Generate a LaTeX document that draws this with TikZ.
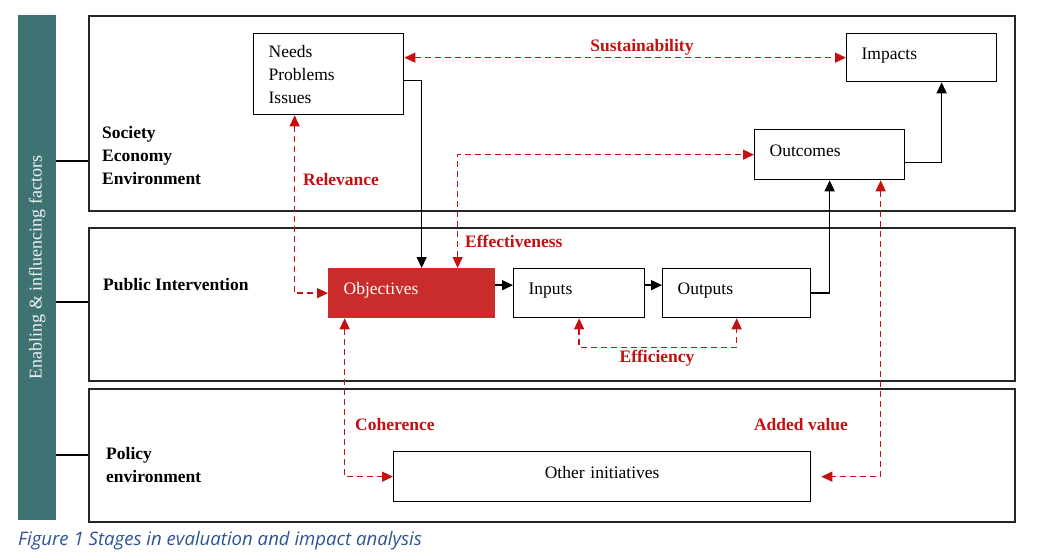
\documentclass[tikz,border=0pt]{standalone}
\usepackage{fontspec}
\setmainfont{Liberation Serif}
\newfontfamily\captionfont{Open Sans}
\usetikzlibrary{positioning, arrows.meta}

\definecolor{barteal}{RGB}{63,115,115}
\definecolor{critred}{RGB}{196,16,16}
\definecolor{objred}{RGB}{202,44,44}
\definecolor{captionblue}{RGB}{46,84,150}

\begin{document}
\begin{tikzpicture}[x=1pt, y=-1pt,
        zone/.style={draw, line width=1.5pt, draw=black!85, anchor=north west, inner sep=0pt},
        stage/.style 2 args={draw, line width=1.3pt, anchor=north west, align=left,
            inner xsep=15pt, inner ysep=0pt, text width=#1, minimum height=#2,
            text height=12pt, text depth=9pt,
            font=\fontsize{17.5}{23}\selectfont},
        zonelabel/.style={anchor=west, align=left, inner sep=4pt,
            font=\fontsize{17.5}{23}\selectfont\bfseries},
        critlabel/.style={text=critred, inner sep=2pt,
            font=\fontsize{17.5}{21}\selectfont\bfseries},
        link/.style={line width=1.4pt},
        flow/.style={line width=1.4pt, -{Triangle[length=11pt, width=10pt]}},
        crit/.style={critred, line width=1.4pt, dash pattern=on 6pt off 4pt,
            {Triangle[length=11pt, width=10pt]}-{Triangle[length=11pt, width=10pt]}}]

        \useasboundingbox (0,0) rectangle (1052,555);

        \node[fill=barteal, anchor=north west, minimum width=38, minimum height=505, inner sep=0pt] (bar) at (18,15) {};
        \node[rotate=90, text=white!92!barteal, font=\fontsize{18}{20}\selectfont] (barlabel) at (bar.center) {Enabling \& influencing factors};

        \node[zone, minimum width=926, minimum height=195] (society) at (88,15) {};
        \node[zone, minimum width=926, minimum height=153] (public) at (88,227) {};
        \node[zone, minimum width=926, minimum height=133] (policy) at (88,388) {};

        \draw[link] (bar.east |- 0,161) -- (society.west |- 0,161);
        \draw[link] (bar.east |- 0,302) -- (public.west |- 0,302);
        \draw[link] (bar.east |- 0,455) -- (policy.west |- 0,455);

        \node[zonelabel] (societylabel) at (98,156) {Society\\Economy\\Environment};
        \node[zonelabel] (publiclabel) at (99,285) {Public Intervention};
        \node[zonelabel] (policylabel) at (102,465) {Policy\\environment};

        \node[stage={120}{81}, text height=, text depth=] (needs) at (253,33) {Needs\\Problems\\Issues};
        \node[stage={120}{48}] (impacts) at (846,33) {Impacts};
        \node[stage={120}{50}] (outcomes) at (754,129) {Outcomes};
        \node[stage={136}{49}, fill=objred, draw=objred, text=white] (objectives) at (328,268) {Objectives};
        \node[stage={101}{49}] (inputs) at (513,268) {Inputs};
        \node[stage={118}{49}] (outputs) at (662,268) {Outputs};
        \node[stage={387}{50}, align=center] (other) at (393,451) {Other initiatives};

        \draw[flow] ([yshift=-6.5pt]needs.east) -| ([xshift=10pt]objectives.north);
        \draw[flow] ([yshift=8pt]objectives.east) -- ([yshift=8pt]inputs.west);
        \draw[flow] ([yshift=8pt]inputs.east) -- ([yshift=8pt]outputs.west);
        \draw[flow] (outputs.east) -| (outcomes.south);
        \draw[flow] ([yshift=-8pt]outcomes.east) -| ([xshift=20pt]impacts.south);

        \draw[crit] (needs.east |- impacts.west) -- (impacts.west);
        \draw[crit] ([xshift=-34pt]needs.south) |- (objectives.west);
        \draw[crit] ([xshift=46pt]objectives.north) |- (outcomes.west);
        \draw[crit] (inputs.south) -- ++(0,29) -| (outputs.south);
        \draw[crit] ([xshift=-67pt]objectives.south) |- (other.west);
        \draw[crit] ([xshift=51pt]outcomes.south) |- ([xshift=10pt]other.east);

        \node[critlabel, anchor=base] (sustainability) at (642,51) {Sustainability};
        \node[critlabel, anchor=west] (relevance) at (301,180) {Relevance};
        \node[critlabel, anchor=west] (effectiveness) at (463,241) {Effectiveness};
        \node[critlabel] (efficiency) at (657,358) {Efficiency};
        \node[critlabel, anchor=west] (coherence) at (353,425) {Coherence};
        \node[critlabel] (addedvalue) at (801,425) {Added value};

        \node[anchor=base west, inner sep=0pt, text=captionblue, font=\captionfont\itshape\fontsize{18.6}{20}\selectfont] (caption) at (18,545) {Figure 1 Stages in evaluation and impact analysis};
    \end{tikzpicture}
\end{document}
